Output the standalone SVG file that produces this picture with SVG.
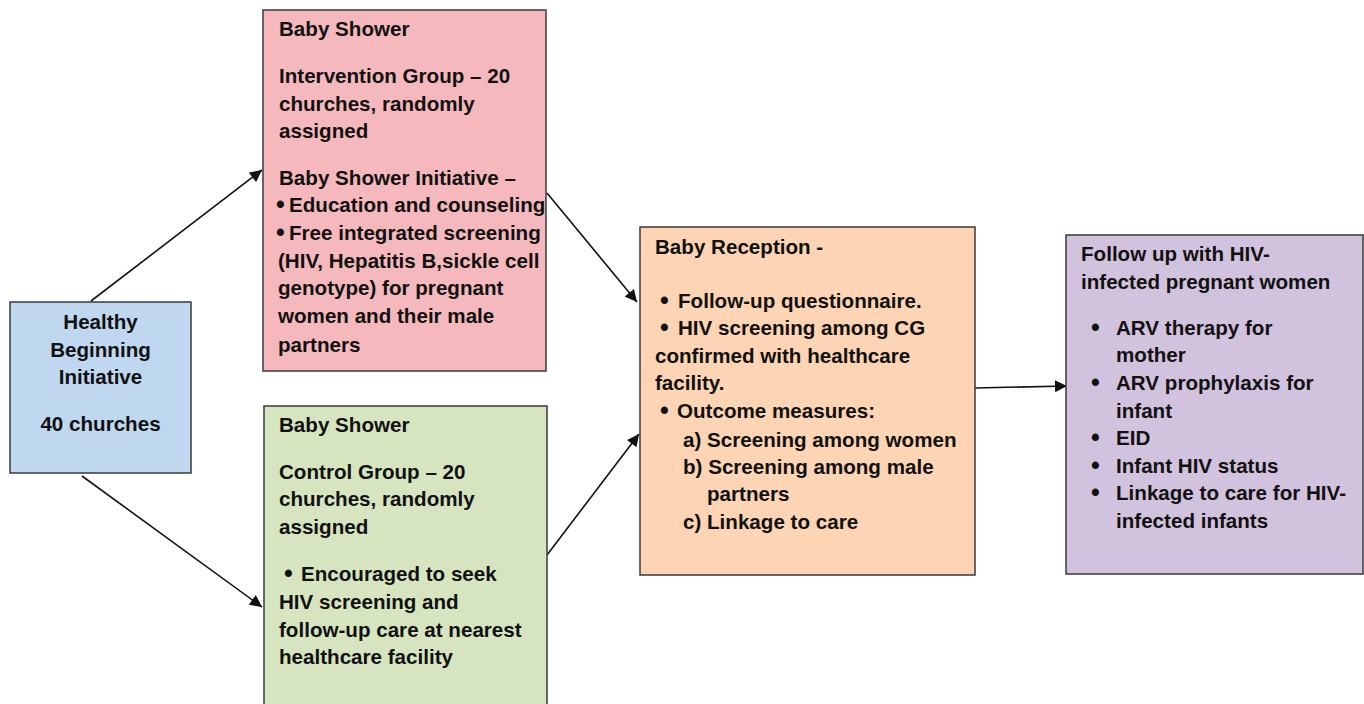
<svg xmlns="http://www.w3.org/2000/svg" width="1364" height="704" viewBox="0 0 1364 704">
<defs>
<style>
.box{stroke:#3a3a3a;stroke-width:1.5}
text{font-family:"Liberation Sans",Arial,sans-serif;font-weight:bold;font-size:20.6px;fill:#111}
.c{text-anchor:middle}
.b{font-size:25px}
.conn{stroke:#111;stroke-width:1.6;fill:none;marker-end:url(#ah)}
</style>
<marker id="ah" viewBox="0 0 10 10" refX="10" refY="5" markerWidth="13" markerHeight="12" markerUnits="userSpaceOnUse" orient="auto"><path d="M0,0 L10,5 L0,10 z" fill="#111"/></marker>
</defs>
<rect width="1364" height="704" fill="#fff"/>
<g id="connectors">
<line class="conn" x1="91" y1="301" x2="262" y2="170"/>
<line class="conn" x1="82" y1="476" x2="262" y2="607"/>
<line class="conn" x1="547" y1="193" x2="637" y2="302"/>
<line class="conn" x1="547" y1="555" x2="639" y2="434"/>
<line class="conn" x1="975" y1="388" x2="1067" y2="386"/>
</g>
<g id="hbi">
<rect class="box" x="10" y="302" width="181" height="171" fill="#bfd7ef"/>
<text class="c" x="100.5" y="329">Healthy</text>
<text class="c" x="100.5" y="357">Beginning</text>
<text class="c" x="100.5" y="384">Initiative</text>
<text class="c" x="100.5" y="431">40 churches</text>
</g>
<g id="intervention">
<rect class="box" x="263" y="10" width="283" height="361" fill="#f5b9bd"/>
<text x="279" y="36">Baby Shower</text>
<text x="279" y="83">Intervention Group – 20</text>
<text x="279" y="111">churches, randomly</text>
<text x="279" y="138">assigned</text>
<text x="279" y="185">Baby Shower Initiative –</text>
<text class="b" x="276" y="213">•</text><text x="289" y="212">Education and counseling</text>
<text class="b" x="276" y="241">•</text><text x="289" y="240">Free integrated screening</text>
<text x="278" y="268">(HIV, Hepatitis B,sickle cell</text>
<text x="278" y="295">genotype) for pregnant</text>
<text x="278" y="323">women and their male</text>
<text x="278" y="352">partners</text>
</g>
<g id="control">
<rect class="box" x="264" y="406" width="283" height="310" fill="#d6e5c0"/>
<text x="279" y="432">Baby Shower</text>
<text x="279" y="479">Control Group – 20</text>
<text x="279" y="506">churches, randomly</text>
<text x="279" y="534">assigned</text>
<text class="b" x="284" y="582">•</text><text x="301" y="581">Encouraged to seek</text>
<text x="279" y="609">HIV screening and</text>
<text x="279" y="637">follow-up care at nearest</text>
<text x="279" y="664">healthcare facility</text>
</g>
<g id="reception">
<rect class="box" x="640" y="227" width="335" height="348" fill="#fdd4b4"/>
<text x="655" y="254">Baby Reception -</text>
<text class="b" x="660" y="309">•</text><text x="678" y="308">Follow-up questionnaire.</text>
<text class="b" x="660" y="336">•</text><text x="678" y="335">HIV screening among CG</text>
<text x="655" y="363">confirmed with healthcare</text>
<text x="655" y="390">facility.</text>
<text class="b" x="660" y="419">•</text><text x="677" y="418">Outcome measures:</text>
<text x="683" y="447">a) Screening among women</text>
<text x="683" y="474">b) Screening among male</text>
<text x="707" y="501">partners</text>
<text x="683" y="529">c) Linkage to care</text>
</g>
<g id="followup">
<rect class="box" x="1066" y="235" width="297" height="339" fill="#d1c2dd"/>
<text x="1081" y="261">Follow up with HIV-</text>
<text x="1081" y="289">infected pregnant women</text>
<text class="b" x="1091" y="336">•</text><text x="1116" y="335">ARV therapy for</text>
<text x="1116" y="362">mother</text>
<text class="b" x="1091" y="391">•</text><text x="1116" y="390">ARV prophylaxis for</text>
<text x="1116" y="418">infant</text>
<text class="b" x="1091" y="446">•</text><text x="1116" y="445">EID</text>
<text class="b" x="1091" y="474">•</text><text x="1116" y="473">Infant HIV status</text>
<text class="b" x="1091" y="501">•</text><text x="1116" y="500">Linkage to care for HIV-</text>
<text x="1116" y="528">infected infants</text>
</g>
</svg>
